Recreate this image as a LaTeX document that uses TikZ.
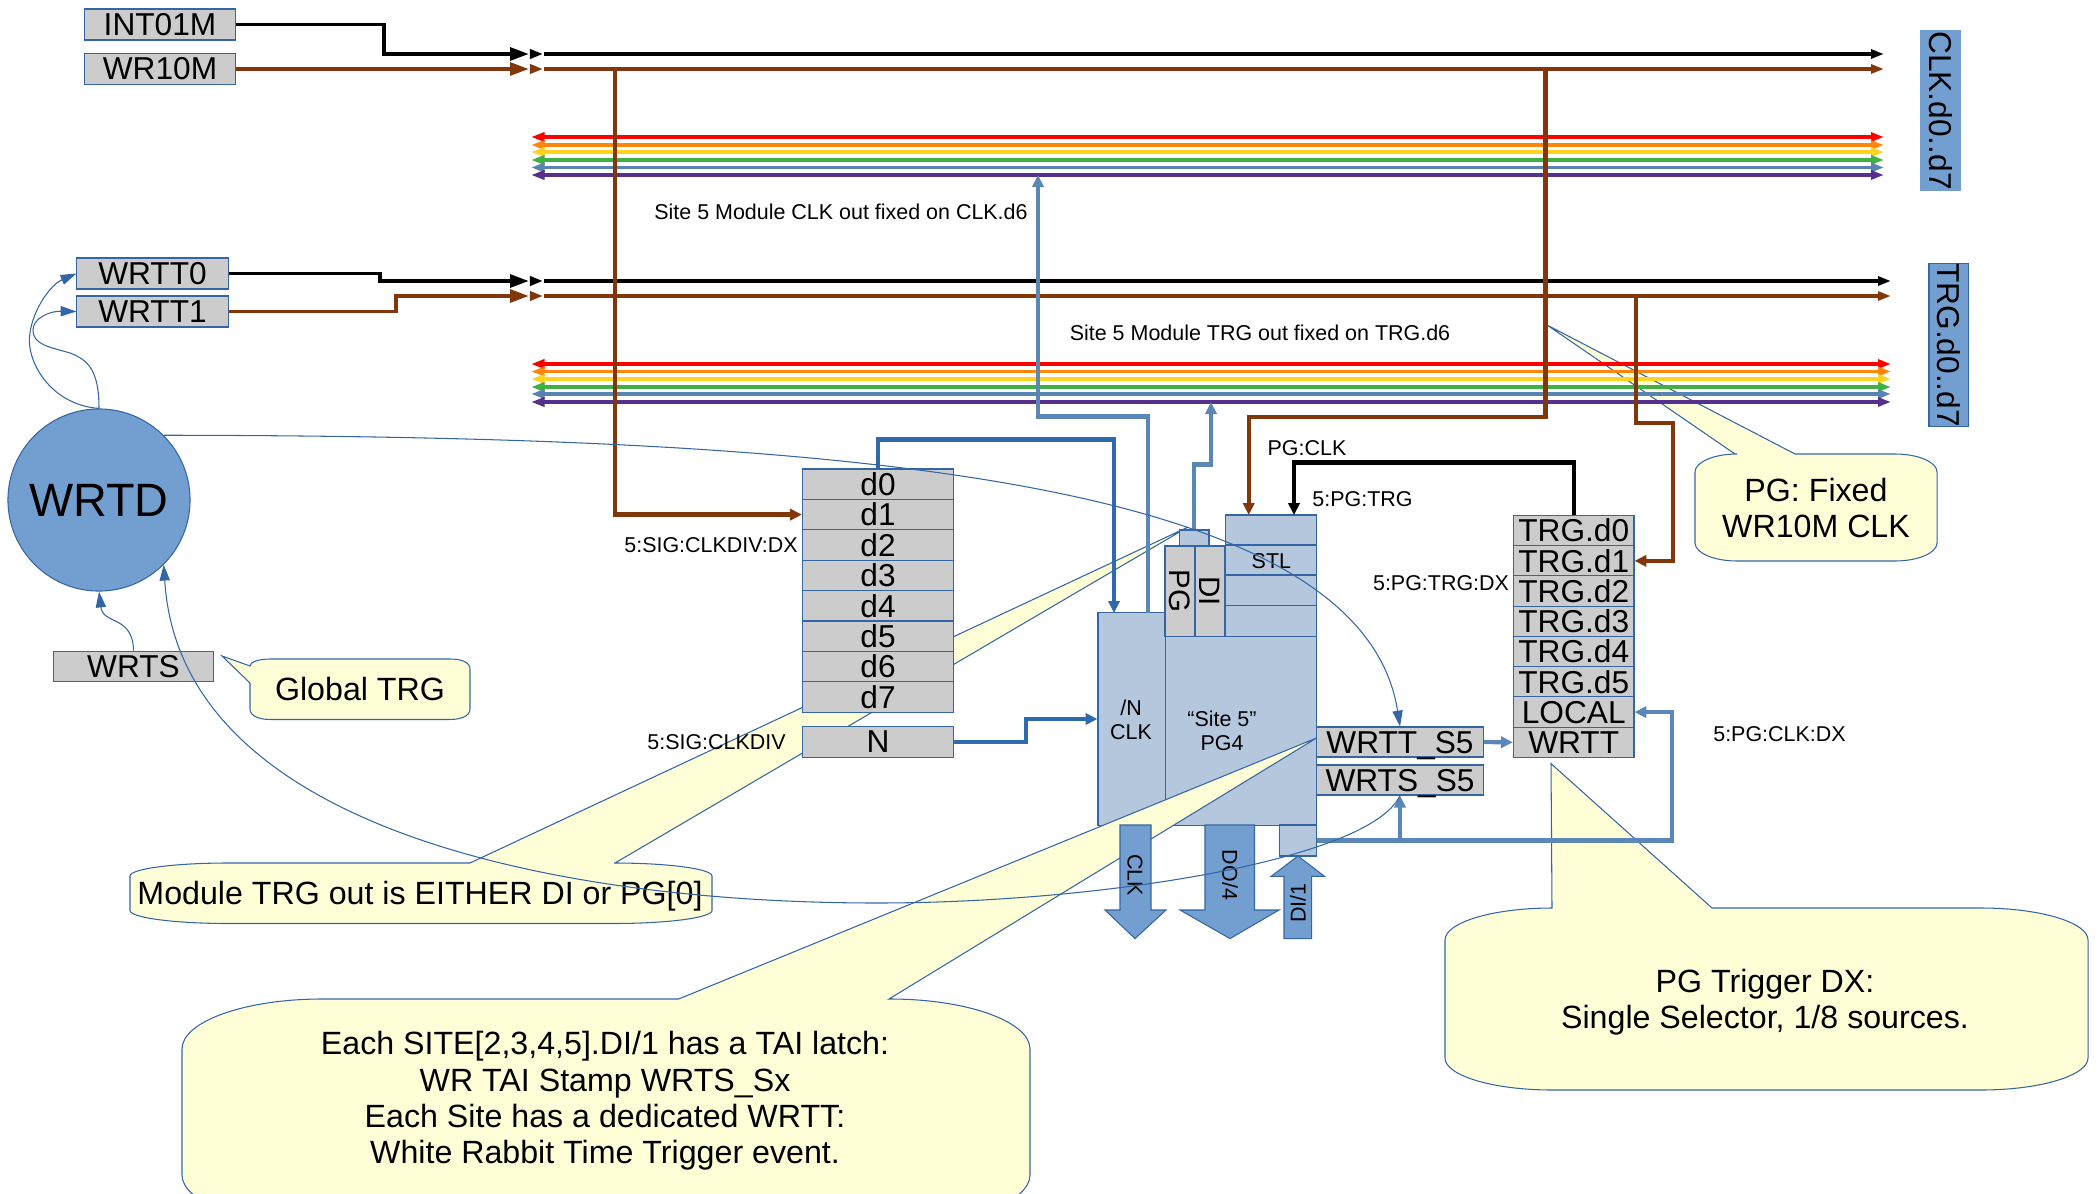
\documentclass[tikz,border=0pt]{standalone}
\usepackage{fontspec}
\setmainfont{Liberation Sans}
\usetikzlibrary{arrows.meta}
\definecolor{boxgray}{HTML}{CCCCCC}
\definecolor{edgeblue}{HTML}{3465A4}
\definecolor{siteblue}{HTML}{B4C7DC}
\definecolor{fatblue}{HTML}{729FCF}
\definecolor{midblue}{HTML}{5B87B8}
\definecolor{darkblue}{HTML}{2F6AAD}
\definecolor{noteyellow}{HTML}{FFFFD7}
\definecolor{busbrown}{HTML}{813709}
\definecolor{busred}{HTML}{FF0000}
\definecolor{busorange}{HTML}{FF860D}
\definecolor{busyellow}{HTML}{FFD320}
\definecolor{busgreen}{HTML}{3FAF46}
\definecolor{busblue}{HTML}{5983B0}
\definecolor{buspurple}{HTML}{55308D}
\newcommand{\bigfont}{\fontsize{9}{10.3}\selectfont}
\newcommand{\notefont}{\fontsize{9.15}{10.3}\selectfont}
\newcommand{\smallfont}{\fontsize{6.1}{7}\selectfont}
\newcommand{\topnote}[9]{\draw[note] ({#1+#5},#2) -- (#7,#2) -- (#9) -- (#8,#2) -- ({#3-#5},#2)
  .. controls ({#3-0.45*#5},#2) and (#3,{#2+0.45*#6}) .. (#3,{#2+#6}) -- (#3,{#4-#6})
  .. controls (#3,{#4-0.45*#6}) and ({#3-0.45*#5},#4) .. ({#3-#5},#4) -- ({#1+#5},#4)
  .. controls ({#1+0.45*#5},#4) and (#1,{#4-0.45*#6}) .. (#1,{#4-#6}) -- (#1,{#2+#6})
  .. controls (#1,{#2+0.45*#6}) and ({#1+0.45*#5},#2) .. cycle;}
\tikzset{note/.style={draw=edgeblue, fill=noteyellow, line width=0.3pt}}
\tikzset{notetext/.style={align=center, inner sep=0pt, font=\notefont}}
\tikzset{tiny/.style={inner sep=0pt, align=center, font=\smallfont}}
\tikzset{graybox/.style={draw=edgeblue, fill=boxgray, line width=0.3pt, inner sep=0pt, font=\bigfont}}
\tikzset{rowbox/.style={graybox, minimum width=1.51cm, minimum height=0.304cm}}
\tikzset{trgbox/.style={graybox, minimum width=1.205cm, minimum height=0.3025cm}}
\tikzset{topbox/.style={graybox, minimum width=1.51cm, minimum height=0.31cm}}
\tikzset{s5box/.style={graybox, minimum width=1.67cm, minimum height=0.30cm, text height=6.5pt, text depth=0pt}}
\tikzset{sidebox/.style={draw=edgeblue, fill=fatblue, line width=0.3pt, inner sep=0pt, font=\bigfont, rotate=-90, minimum width=1.59cm, minimum height=0.39cm}}
\tikzset{siteb/.style={draw=edgeblue, fill=siteblue, line width=0.3pt, inner sep=0pt}}
\tikzset{fatarrow/.style={draw=edgeblue, fill=fatblue, line width=0.3pt}}
\tikzset{stubtip/.style={-{Triangle[length=5.4pt,width=3.6pt]}}}
\tikzset{smalltip/.style={-{Triangle[length=3.7pt,width=2.6pt]}}}
\tikzset{endtip/.style={-{Triangle[length=3.7pt,width=2.5pt]}}}
\tikzset{bothtip/.style={{Triangle[length=3.9pt,width=2.6pt]}-{Triangle[length=3.7pt,width=2.5pt]}}}
\tikzset{blackbus/.style={draw=black, line width=1.1pt}}
\tikzset{brownbus/.style={draw=busbrown, line width=1.1pt}}
\tikzset{rainbow/.style={bothtip, line width=1.1pt}}
\tikzset{medarrow/.style={line width=1.2pt, -{Triangle[length=3.4pt,width=3.2pt]}}}
\tikzset{thinarrow/.style={draw=edgeblue, line width=0.3pt, -{Triangle[length=4.5pt,width=2.9pt]}, fill=none}}

\begin{document}
\begin{tikzpicture}[x=0.01cm, y=-0.01cm]
\useasboundingbox (0,0) rectangle (2100,1194);

% notes that sit behind everything
\topnote{130}{863}{712}{923.5}{98}{13}{470}{615}{1188,527}
\topnote{1695}{454}{1937}{561}{42}{18}{1735}{1795}{1547,325}
\draw[note] (270,659) -- (450,659) .. controls (461,659) and (470,662) .. (470,669) -- (470,709)
  .. controls (470,716) and (461,719.5) .. (450,719.5) -- (270,719.5)
  .. controls (259,719.5) and (250,716) .. (250,709) -- (250,683) -- (222,656) -- (250,666)
  .. controls (250,662) and (259,659) .. (270,659) -- cycle;

\node[topbox] (int) at (160,24.5) {INT01M};
\node[topbox] (wr) at (160,69) {WR10M};
\node[topbox, minimum width=1.51cm] (wrtt0) at (152.5,273.5) {WRTT0};
\node[topbox, minimum width=1.51cm] (wrtt1) at (152.5,311.5) {WRTT1};

\coordinate (a0) at (529,54); \coordinate (b0) at (530,54); \coordinate (c0) at (543,54); \coordinate (e0) at (544,54); \coordinate (f0) at (1884,54);
\coordinate (a1) at (529,69); \coordinate (b1) at (530,69); \coordinate (c1) at (543,69); \coordinate (e1) at (544,69); \coordinate (f1) at (1884,69);
\coordinate (a2) at (529,281); \coordinate (b2) at (530,281); \coordinate (c2) at (543,281); \coordinate (e2) at (544,281); \coordinate (f2) at (1891,281);
\coordinate (a3) at (529,296); \coordinate (b3) at (530,296); \coordinate (c3) at (543,296); \coordinate (e3) at (544,296); \coordinate (f3) at (1891,296);

\draw[blackbus, stubtip] (int.east) -- ++(148,0) |- (a0);
\draw[blackbus, smalltip] (b0) -- (c0);
\draw[blackbus, endtip] (e0) -- (f0);
\draw[brownbus, stubtip] (wr.east) -- (a1);
\draw[brownbus, smalltip] (b1) -- (c1);
\draw[brownbus, endtip] (e1) -- (f1);
\draw[blackbus, stubtip] (wrtt0.east) -- ++(151,0) |- (a2);
\draw[blackbus, smalltip] (b2) -- (c2);
\draw[blackbus, endtip] (e2) -- (f2);
\draw[brownbus, stubtip] (wrtt1.east) -- ++(167,0) |- (a3);
\draw[brownbus, smalltip] (b3) -- (c3);
\draw[brownbus, endtip] (e3) -- (f3);

\coordinate (l0) at (531,137); \coordinate (r0) at (1884,137); \draw[rainbow, draw=busred, fill=busred] (l0) -- (r0);
\coordinate (l1) at (531,145); \coordinate (r1) at (1884,145); \draw[rainbow, draw=busorange, fill=busorange] (l1) -- (r1);
\coordinate (l2) at (531,152); \coordinate (r2) at (1884,152); \draw[rainbow, draw=busyellow, fill=busyellow] (l2) -- (r2);
\coordinate (l3) at (531,160); \coordinate (r3) at (1884,160); \draw[rainbow, draw=busgreen, fill=busgreen] (l3) -- (r3);
\coordinate (l4) at (531,167.5); \coordinate (r4) at (1884,167.5); \draw[rainbow, draw=busblue, fill=busblue] (l4) -- (r4);
\coordinate (l5) at (531,175); \coordinate (r5) at (1884,175); \draw[rainbow, draw=buspurple, fill=buspurple] (l5) -- (r5);

\coordinate (m0) at (531,364); \coordinate (n0) at (1891,364); \draw[rainbow, draw=busred, fill=busred] (m0) -- (n0);
\coordinate (m1) at (531,371.5); \coordinate (n1) at (1891,371.5); \draw[rainbow, draw=busorange, fill=busorange] (m1) -- (n1);
\coordinate (m2) at (531,379); \coordinate (n2) at (1891,379); \draw[rainbow, draw=busyellow, fill=busyellow] (m2) -- (n2);
\coordinate (m3) at (531,387); \coordinate (n3) at (1891,387); \draw[rainbow, draw=busgreen, fill=busgreen] (m3) -- (n3);
\coordinate (m4) at (531,394); \coordinate (n4) at (1891,394); \draw[rainbow, draw=busblue, fill=busblue] (m4) -- (n4);
\coordinate (m5) at (531,402); \coordinate (n5) at (1891,402); \draw[rainbow, draw=buspurple, fill=buspurple] (m5) -- (n5);

\node[sidebox, draw=fatblue] (clkbus) at (1940.5,110.5) {CLK.d0..d7};
\node[sidebox] (trgbus) at (1948.5,345) {TRG.d0..d7};

\node[tiny] (clkfix) at (841,212) {Site 5 Module CLK out fixed on CLK.d6};
\node[tiny] (trgfix) at (1260,333) {Site 5 Module TRG out fixed on TRG.d6};

% divider column
\node[rowbox] (d0) at (878,484.2) {d0};
\node[rowbox] (d1) at (878,514.6) {d1};
\node[rowbox] (d2) at (878,545) {d2};
\node[rowbox] (d3) at (878,575.4) {d3};
\node[rowbox] (d4) at (878,605.8) {d4};
\node[rowbox] (d5) at (878,636.2) {d5};
\node[rowbox] (d6) at (878,666.6) {d6};
\node[rowbox] (d7) at (878,697) {d7};
\node[rowbox] (nbox) at (878,742) {N};

% site block
\node[siteb, minimum width=0.68cm, minimum height=2.12cm] (nclk) at (1132,719) {};
\node[siteb, minimum width=1.505cm, minimum height=1.89cm] (site) at (1241.2,730.7) {};
\node[siteb, minimum width=0.295cm, minimum height=0.16cm] (pgtop) at (1194.2,538) {};
\node[siteb, minimum width=0.905cm, minimum height=0.30cm] (stl0) at (1271.2,530) {};
\node[siteb, minimum width=0.905cm, minimum height=0.30cm] (stl1) at (1271.2,560) {};
\node[siteb, minimum width=0.905cm, minimum height=0.31cm] (stl2) at (1271.2,590.5) {};
\node[siteb, minimum width=0.905cm, minimum height=0.305cm] (stl3) at (1271.2,621) {};
\node[graybox, font=\fontsize{8.4}{9}\selectfont, rotate=-90, minimum width=0.90cm, minimum height=0.30cm] (pgb) at (1180,591) {PG};
\node[graybox, font=\fontsize{8.4}{9}\selectfont, rotate=-90, minimum width=0.90cm, minimum height=0.30cm] (dib) at (1210,591) {DI};
\node[siteb, minimum width=0.37cm, minimum height=0.31cm] (dilatch) at (1298,840.5) {};
\node[s5box] (wrtts) at (1400,742) {WRTT\_S5};
\node[s5box] (wrtss) at (1400,780) {WRTS\_S5};
\node[tiny] (stltxt) at (1271.4,561) {STL};
\node[tiny] (ntxt) at (1131,720) {/N\\CLK};
\node[tiny] (sitetxt) at (1222,731) {“Site 5”\\PG4};

% trigger column
\node[trgbox] (trg0) at (1573.7,530.6) {TRG.d0};
\node[trgbox] (trg1) at (1573.7,560.9) {TRG.d1};
\node[trgbox] (trg2) at (1573.7,591.1) {TRG.d2};
\node[trgbox] (trg3) at (1573.7,621.4) {TRG.d3};
\node[trgbox] (trg4) at (1573.7,651.6) {TRG.d4};
\node[trgbox] (trg5) at (1573.7,681.9) {TRG.d5};
\node[trgbox] (trg6) at (1573.7,712.1) {LOCAL};
\node[trgbox] (trg7) at (1573.7,742.4) {WRTT};

% big note and fat arrows go over the site block
\topnote{182}{999}{1030}{1225}{140}{50}{678.6}{889}{1316.5,738}
\node[notetext] (sitenote) at (605,1101) {Each SITE[2,3,4,5].DI/1 has a TAI latch:\\WR TAI Stamp WRTS\_Sx\\Each Site has a dedicated WRTT:\\White Rabbit Time Trigger event.};
\topnote{1445}{908}{2088}{1090}{107}{32}{1552}{1712}{1551,763.6}
\node[notetext] (pgdx) at (1765,1002) {PG Trigger DX:\\Single Selector, 1/8 sources.};
\node[notetext] (pgfix) at (1816,508) {PG: Fixed\\WR10M CLK};
\node[notetext] (modnote) at (420,896.5) {Module TRG out is EITHER DI or PG[0]};
\node[notetext] (globnote) at (360,689) {Global TRG};

\draw[fatarrow] (1120,825) -- (1151,825) -- (1151,910) -- (1166,910) -- (1135,938.6) -- (1105,910) -- (1120,910) -- cycle;
\draw[fatarrow] (1205,825) -- (1254.5,825) -- (1254.5,910) -- (1279,910) -- (1230,938.6) -- (1180,910) -- (1205,910) -- cycle;
\draw[fatarrow] (1284,938.6) -- (1311.6,938.6) -- (1311.6,876.4) -- (1324.5,876.4) -- (1298,856) -- (1271,876.4) -- (1284,876.4) -- cycle;
\node[tiny, rotate=-90] (clkout) at (1135,875) {CLK};
\node[tiny, rotate=-90] (doout) at (1230,875) {DO/4};
\node[tiny, rotate=90] (diin) at (1298,903) {DI/1};

% routing
\coordinate (clkj) at (615,69);
\coordinate (clkk) at (1545.5,69);
\coordinate (stlbend) at (1248.7,417);
\coordinate (stlclk) at (1248.7,515);
\coordinate (stltrg) at (1294,515);
\coordinate (pgbend) at (1294,462.5);
\coordinate (trgj) at (1636,296);
\coordinate (trgbend) at (1672.6,423);
\coordinate (dbend) at (1114,439.5);
\coordinate (nclkin) at (1114,613);
\coordinate (nclkout) at (1148,613);
\coordinate (fixbend) at (1038,416.4);
\coordinate (clkd6) at (1038,175);
\coordinate (pgbend2) at (1211,464.6);
\coordinate (trgd6) at (1211,402);
\coordinate (barr) at (1672,840.5);
\coordinate (barj) at (1400,840.5);

\draw[brownbus, medarrow] (clkj) |- (d1.west);
\draw[brownbus, medarrow] (clkk) |- (stlbend) -- (stlclk);
\draw[brownbus, medarrow] (trgj) |- (trgbend) |- (trg1.east);
\draw[draw=black, line width=1.2pt, medarrow] (trg0.north) |- (pgbend) -- (stltrg);
\draw[draw=darkblue, medarrow] (d0.north) |- (dbend) -- (nclkin);
\draw[draw=darkblue, medarrow] (nbox.east) -- ++(72,0) |- (nclk.west);
\draw[draw=midblue, medarrow] (nclkout) |- (fixbend) -- (clkd6);
\draw[draw=midblue, medarrow] (pgtop.north) |- (pgbend2) -- (trgd6);
\draw[draw=midblue, medarrow] (wrtts.east) -- (trg7.west);
\draw[draw=midblue, medarrow] (dilatch.east) -- (barr) |- (trg6.east);
\draw[draw=midblue, medarrow] (barj) -- (wrtss.south);

\node[tiny] (dxlbl) at (711,545) {5:SIG:CLKDIV:DX};
\node[tiny] (divlbl) at (716.5,742) {5:SIG:CLKDIV};
\node[tiny] (pgclk) at (1307,448.6) {PG:CLK};
\node[tiny] (pgtrg) at (1362.5,499) {5:PG:TRG};
\node[tiny] (pgtrgdx) at (1441,583) {5:PG:TRG:DX};
\node[tiny] (pgclkdx) at (1779.5,734) {5:PG:CLK:DX};

% white rabbit
\node[circle, draw=edgeblue, fill=fatblue, line width=0.3pt, inner sep=0pt, minimum width=1.82cm, font=\fontsize{13.3}{15}\selectfont] (wrtd) at (99,500) {WRTD};
\node[graybox, minimum width=1.59cm, minimum height=0.305cm] (wrts) at (133.5,666.5) {WRTS};

\draw[thinarrow] (wrtd.north) .. controls (50,405) and (25,360) .. (30,333) .. controls (33,310) and (50,285) .. (wrtt0.west);
\draw[thinarrow] (wrtd.north) .. controls (99,370) and (88,360) .. (70,353) .. controls (50,347) and (33,345) .. (33,330) .. controls (33,318) and (50,311) .. (wrtt1.west);
\draw[thinarrow] (wrts.north) .. controls (133,615) and (103,625) .. (wrtd.south);
\draw[thinarrow] (wrtd.45) .. controls (800,436) and (1360,470) .. (wrtts.north);
\draw[thinarrow] (wrtss.south) .. controls (1370,860) and (1100,903) .. (877,903) .. controls (560,903) and (180,830) .. (wrtd.-45);

\end{tikzpicture}
\end{document}
